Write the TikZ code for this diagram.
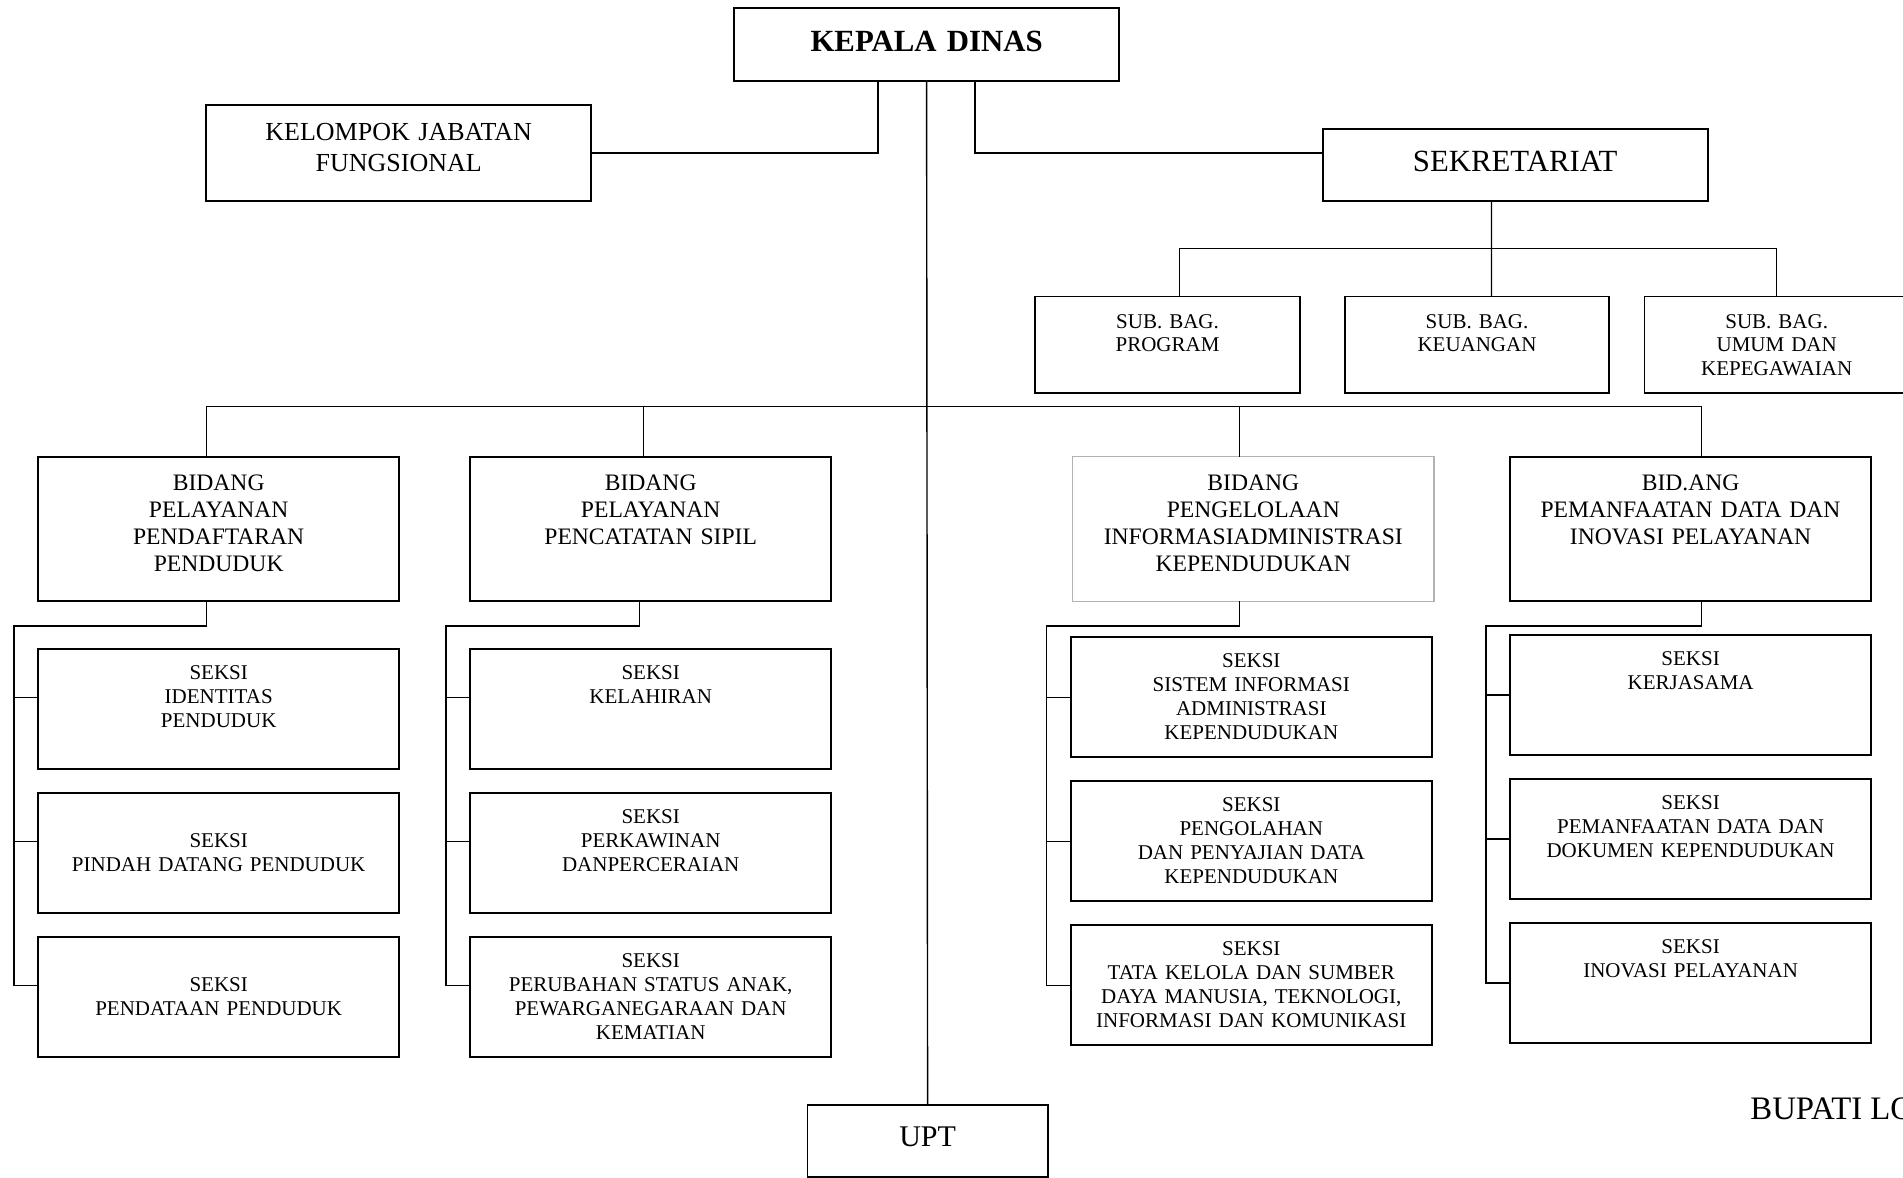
\documentclass[tikz,border=0pt]{standalone}
\usepackage{fontspec}
\setmainfont{Liberation Serif}
\usetikzlibrary{positioning}

\begin{document}
\begin{tikzpicture}
   [x=0.5pt,y=-0.5pt,
    box/.style={rectangle,draw,line width=0.9pt,inner sep=0pt,outer sep=0pt,
      align=center,anchor=north},
    link/.style={line width=0.7pt},
    head/.style={box,minimum width=192.5pt,text width=186pt},
    bidang/.style={box,minimum width=180.6pt,text width=174pt,
      text height=17pt,text depth=55.2pt,font=\fontsize{11.8}{13.5}\selectfont},
    seksi/.style={box,minimum width=180.6pt,text width=174pt,
      text height=15pt,text depth=45pt,font=\fontsize{10.5}{12}\selectfont},
    lower/.style={text height=27pt,text depth=33pt},
    subbag/.style={box,minimum width=132.3pt,text width=126pt,
      text height=15.75pt,text depth=32.55pt,font=\fontsize{10.5}{11.8}\selectfont}]

\useasboundingbox (0,0) rectangle (1903,1178);

\node [head,text height=21.7pt,text depth=14.6pt,font=\bfseries\fontsize{15.4}{18}\selectfont]
  (kd) at (926.6,8.3) {KEPALA DINAS};
\node [head,text height=17.6pt,text depth=30.4pt,font=\fontsize{13}{15.5}\selectfont]
  (kjf) at (398.7,105) {KELOMPOK JABATAN\\FUNGSIONAL};
\node [head,text height=21pt,text depth=15pt,font=\fontsize{15.4}{18}\selectfont]
  (sek) at (1515.2,129) {SEKRETARIAT};

\node [subbag] (sb1) at (1167.5,296.5) {SUB. BAG.\\PROGRAM};
\node [subbag] (sb2) at (1477,296.5) {SUB. BAG.\\KEUANGAN};
\node [subbag] (sb3) at (1776.7,296.5) {SUB. BAG.\\UMUM DAN\\KEPEGAWAIAN};

\node [bidang] (b1) at (218.7,456.7) {BIDANG\\PELAYANAN\\PENDAFTARAN\\PENDUDUK};
\node [bidang] (b2) at (650.7,456.7) {BIDANG\\PELAYANAN\\PENCATATAN SIPIL};
\node [bidang,draw=gray!60,line width=0.6pt] (b3) at (1253.3,456.7)
  {BIDANG\\PENGELOLAAN\\INFORMASIADMINISTRASI\\KEPENDUDUKAN};
\node [bidang] (b4) at (1690.6,456.7) {BID.ANG\\PEMANFAATAN DATA DAN\\INOVASI PELAYANAN};

\node [seksi,below=24.1pt of b1] (s11) {SEKSI\\IDENTITAS\\PENDUDUK};
\node [seksi,lower,below=12pt of s11] (s12) {SEKSI\\PINDAH DATANG PENDUDUK};
\node [seksi,lower,below=12pt of s12] (s13) {SEKSI\\PENDATAAN PENDUDUK};

\node [seksi,below=24.1pt of b2] (s21) {SEKSI\\KELAHIRAN};
\node [seksi,below=12pt of s21] (s22) {SEKSI\\PERKAWINAN\\DANPERCERAIAN};
\node [seksi,below=12pt of s22] (s23) {SEKSI\\PERUBAHAN STATUS ANAK,\\PEWARGANEGARAAN DAN\\KEMATIAN};

\node [seksi,below=18.1pt of b3,xshift=-1pt] (s31) {SEKSI\\SISTEM INFORMASI\\ADMINISTRASI\\KEPENDUDUKAN};
\node [seksi,below=12pt of s31] (s32) {SEKSI\\PENGOLAHAN\\DAN PENYAJIAN DATA\\KEPENDUDUKAN};
\node [seksi,below=12pt of s32] (s33) {SEKSI\\TATA KELOLA DAN SUMBER\\DAYA MANUSIA, TEKNOLOGI,\\INFORMASI DAN KOMUNIKASI};

\node [seksi,below=17pt of b4] (s41) {SEKSI\\KERJASAMA};
\node [seksi,below=12pt of s41] (s42) {SEKSI\\PEMANFAATAN DATA DAN\\DOKUMEN KEPENDUDUKAN};
\node [seksi,below=12pt of s42] (s43) {SEKSI\\INOVASI PELAYANAN};

\node [box,minimum width=120.2pt,text width=114pt,text height=20.5pt,text depth=15.3pt,
  font=\fontsize{15}{18}\selectfont] (upt) at (927.6,1105) {UPT};
\node [anchor=base west,inner sep=0pt,font=\fontsize{16.4}{19}\selectfont]
  (bupati) at (1750,1119.3) {BUPATI LO};

\draw [link] ([xshift=-24.25pt]kd.south) |- (kjf.east);
\draw [link] ([xshift=24.25pt]kd.south) |- (sek.west |- kjf.east);
\draw [link] (kd.south) -- (upt.north);

\draw [link] ([xshift=-11.85pt]sek.south) -- ([xshift=7.25pt]sb2.north);
\draw [link] ([xshift=6.05pt]sb1.north) -- ++(0,24pt) -| (sb3.north);

\draw [link] ([xshift=-6.2pt]b1.north) -- ++(0,25pt) -| ([xshift=5.35pt]b4.north);
\draw [link] ([xshift=-3.75pt]b2.north) -- ++(0,25pt);
\draw [link] ([xshift=-7.05pt]b3.north) -- ++(0,25pt);

\draw [link] ([xshift=-6.2pt]b1.south) -- ++(0,-12.5pt) -| ([xshift=-12pt,yshift=6pt]s13.west) -- ([yshift=6pt]s13.west);
\draw [link] ([yshift=6pt]s11.west) -- ++(-12pt,0);
\draw [link] ([yshift=6pt]s12.west) -- ++(-12pt,0);

\draw [link] ([xshift=-5.55pt]b2.south) -- ++(0,-12.5pt) -| ([xshift=-12pt,yshift=6pt]s23.west) -- ([yshift=6pt]s23.west);
\draw [link] ([yshift=6pt]s21.west) -- ++(-12pt,0);
\draw [link] ([yshift=6pt]s22.west) -- ++(-12pt,0);

\draw [link] ([xshift=-7.05pt]b3.south) -- ++(0,-12.5pt) -| ([xshift=-12pt]s33.west) -- (s33.west);
\draw [link] (s31.west) -- ++(-12pt,0);
\draw [link] (s32.west) -- ++(-12pt,0);

\draw [link] ([xshift=5.35pt]b4.south) -- ++(0,-12.5pt) -| ([xshift=-12pt]s43.west) -- (s43.west);
\draw [link] (s41.west) -- ++(-12pt,0);
\draw [link] (s42.west) -- ++(-12pt,0);
\end{tikzpicture}
\end{document}
